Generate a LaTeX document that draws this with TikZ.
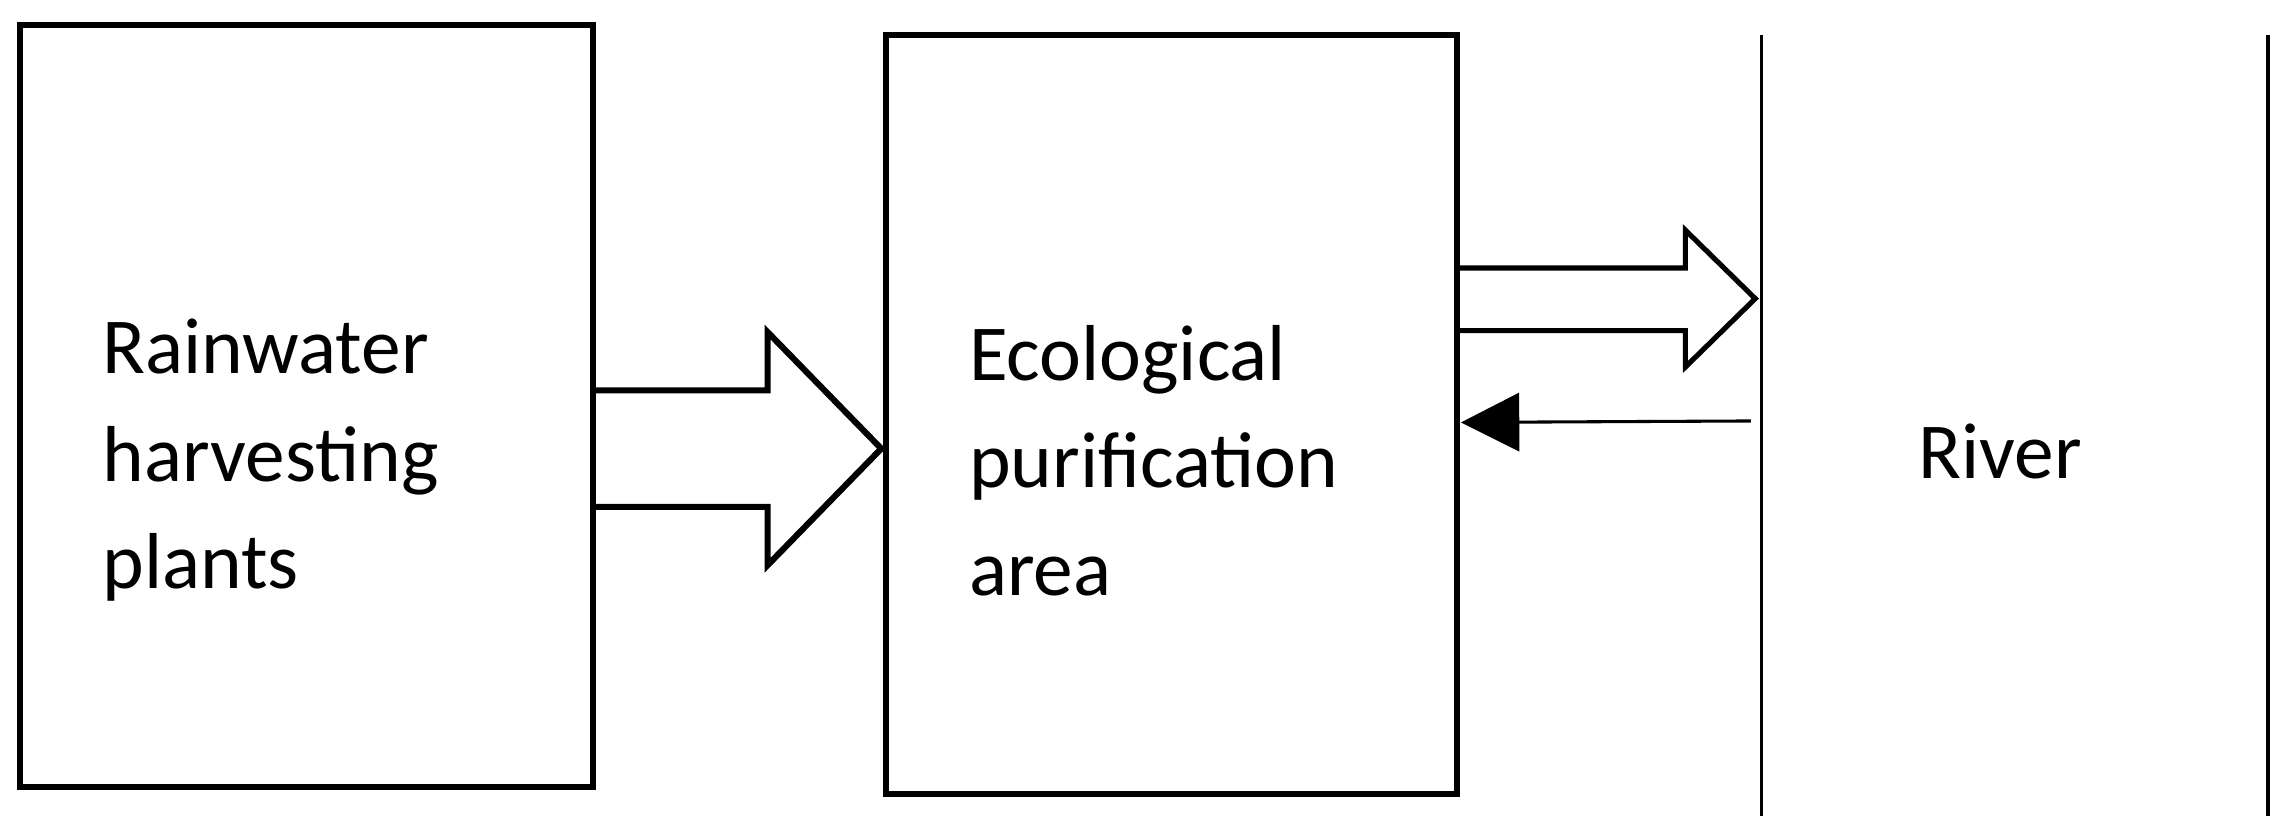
\documentclass[tikz,border=0pt]{standalone}
\usepackage{fontspec}
\setmainfont{Carlito}
\usetikzlibrary{arrows.meta}
\begin{document}
\begin{tikzpicture}[x=0.02cm,y=-0.02cm,
  boxst/.style={draw,line width=2.4pt},
  lbl/.style={align=left,anchor=west,inner sep=0pt,font=\fontsize{31}{42}\selectfont},
  thin/.style={line width=1.2pt}]
\useasboundingbox (0,0) rectangle (1568,570);
\draw[boxst] (14,17) rectangle (407,540);
\draw[boxst] (608,24) rectangle (1000,545);
\node[lbl] (t1) at (70,316) {Rainwater\\harvesting\\plants};
\node[lbl] (t2) at (665,316) {Ecological\\purification\\area};
\node[inner sep=0pt,font=\fontsize{31}{42}\selectfont] (t3) at (1373,310) {River};
\draw[boxst,line join=miter] (407,268) -- (527,268) -- (527,228) -- (605,308) -- (527,388) -- (527,348) -- (407,348);
\draw[line width=2pt,line join=miter] (1000,184) -- (1157,184) -- (1157,158) -- (1205,205) -- (1157,252) -- (1157,227) -- (1000,227);
\coordinate (a) at (1202,289);
\coordinate (b) at (1003,290);
\draw[thin,-{Triangle[length=0.8cm,width=0.8cm]}] (a) -- (b);
\draw[thin] (1209,24) -- (1209,560);
\draw[thin] (1557,24) -- (1557,560);
\end{tikzpicture}
\end{document}
